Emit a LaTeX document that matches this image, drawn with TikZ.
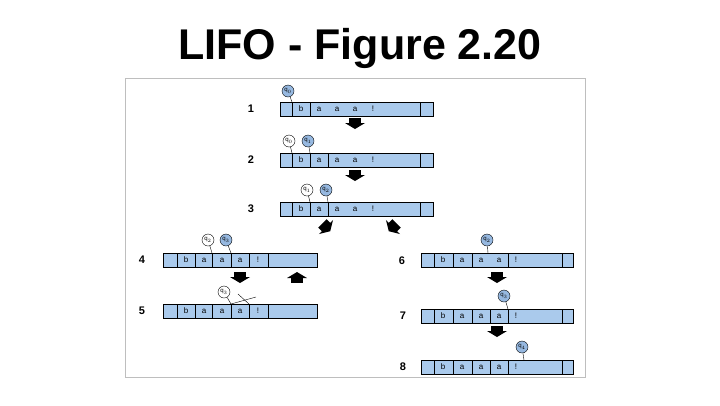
\documentclass[tikz,border=0pt]{standalone}
\usepackage{fontspec}
\setmainfont{Liberation Sans}
\setsansfont{Liberation Sans}
\usetikzlibrary{positioning}
\definecolor{tapeblue}{RGB}{170,202,236}
\definecolor{headblue}{RGB}{150,184,224}
\definecolor{framegray}{RGB}{190,190,190}

\tikzset{
  tape/.style={draw, fill=tapeblue, line width=0.4pt},
  head/.style={circle, draw, fill=headblue, inner sep=0pt, minimum size=12pt, font=\sffamily\fontsize{6}{6}\selectfont},
  oldhead/.style={head, fill=white},
  rowlabel/.style={font=\sffamily\bfseries\fontsize{11}{11}\selectfont},
  cell/.style={font=\sffamily\fontsize{8}{8}\selectfont, inner sep=0pt},
  blockarrow/.pic={\fill (-6,-5) rectangle (6,1); \fill (-10,0) -- (10,0) -- (0,6) -- cycle;}
}

% tape: name, x0, x1, ytop, dividers, letters
\newcommand{\tapeline}[6]{%
  \draw[tape] (#2,#4) rectangle (#3,#4+14);
  \foreach \d in {#5} {\draw (\d,#4) -- (\d,#4+14); \coordinate (#1-\d) at (\d,#4);}
  \foreach \c/\x in {#6} \node[cell] (#1c\x) at (\x,#4+7) {\c};
}

\begin{document}
\begin{tikzpicture}[x=1pt, y=-1pt]
    \useasboundingbox (0,0) rectangle (720,405);
    \node[font=\sffamily\bfseries\fontsize{43}{43}\selectfont] (title) at (360,48) {LIFO - Figure 2.20};
    \draw[framegray] (125,78) rectangle (585,377);

    % left column
    \tapeline{t1}{280}{433}{102}{292,310,420}{b/301,a/319,a/337,a/355,!/373}
    \tapeline{t2}{280}{433}{153}{292,310,328,420}{b/301,a/319,a/337,a/355,!/373}
    \tapeline{t3}{280}{433}{202}{292,310,328,420}{b/301,a/319,a/337,a/355,!/373}
    \tapeline{t4}{163}{317}{253}{177,195,212,231,249,268}{b/186,a/204,a/222,a/240,!/258}
    \tapeline{t5}{163}{317}{304}{177,195,212,231,249,268}{b/186,a/204,a/222,a/240,!/258}
    % right column
    \tapeline{t6}{421}{573}{253}{434,453,472,508,562}{b/443,a/462,a/481,a/499,!/516}
    \tapeline{t7}{421}{573}{309}{434,453,472,490,508,562}{b/443,a/462,a/481,a/499,!/516}
    \tapeline{t8}{421}{573}{360}{434,453,472,490,508,562}{b/443,a/462,a/481,a/499,!/516}

    \node[rowlabel] (l1) at (251,109) {1};
    \node[rowlabel] (l2) at (251,160) {2};
    \node[rowlabel] (l3) at (251,209) {3};
    \node[rowlabel] (l4) at (142,260) {4};
    \node[rowlabel] (l5) at (142,311) {5};
    \node[rowlabel] (l6) at (402,261) {6};
    \node[rowlabel] (l7) at (403,316) {7};
    \node[rowlabel] (l8) at (403,367) {8};

    \node[head] (h1) at (288,91) {q$_0$};
    \node[oldhead] (h2a) at (289,141) {q$_0$};
    \node[head] (h2b) at (308,141) {q$_1$};
    \node[oldhead] (h3a) at (307,190) {q$_1$};
    \node[head] (h3b) at (326,190) {q$_2$};
    \node[oldhead] (h4a) at (208,240) {q$_2$};
    \node[head] (h4b) at (226,240) {q$_3$};
    \node[oldhead] (h5) at (224,292) {q$_3$};
    \node[head] (h6) at (487,240) {q$_2$};
    \node[head] (h7) at (504,296) {q$_3$};
    \node[head] (h8) at (522,347) {q$_4$};

    \draw (h1) -- (t1-292);
    \draw (h2a) -- (t2-292);
    \draw (h2b) -- (t2-310);
    \draw (h3a) -- (t3-310);
    \draw (h3b) -- (t3-328);
    \draw (h4a) -- (t4-212);
    \draw (h4b) -- (t4-231);
    \draw (h5) -- (t5-231);
    \coordinate (x1) at (238,294);
    \coordinate (x2) at (256,297);
    \draw (x1) -- (t5-249);
    \draw (x2) -- (t5-231);
    \coordinate (t6-488) at (488,253);
    \draw (h6) -- (t6-488);
    \draw (h7) -- (t7-508);
    \coordinate (t8-524) at (524,360);
    \draw (h8) -- (t8-524);

    \pic at (355,123) {blockarrow};
    \pic at (355,175) {blockarrow};
    \pic[rotate=45] at (326,227) {blockarrow};
    \pic[rotate=-45] at (393,227) {blockarrow};
    \pic at (240,277) {blockarrow};
    \pic[rotate=180] at (297,278) {blockarrow};
    \pic at (497,277) {blockarrow};
    \pic at (497,331) {blockarrow};
\end{tikzpicture}
\end{document}
